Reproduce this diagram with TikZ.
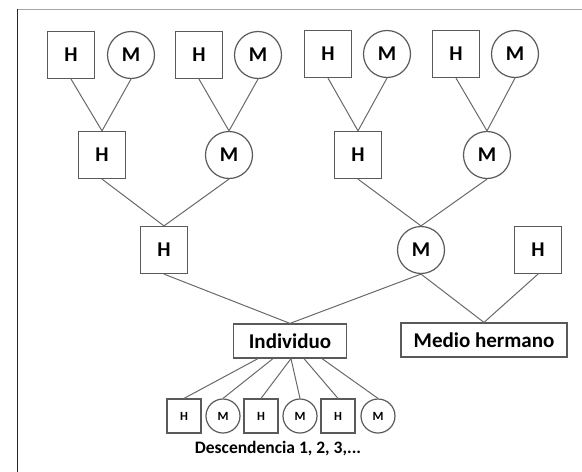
\documentclass[tikz,border=0pt]{standalone}
\usepackage{fontspec}
\setmainfont{Carlito}
\definecolor{ln}{RGB}{105,105,105}
\definecolor{bd}{RGB}{90,90,90}
\begin{document}
\begin{tikzpicture}[x=1pt,y=-1pt,
  sqb/.style={draw=bd,line width=1.2pt,minimum size=47pt,inner sep=0pt,font=\fontsize{21}{21}\selectfont\bfseries},
  cib/.style={circle,draw=bd,line width=1.2pt,minimum size=47pt,inner sep=0pt,font=\fontsize{21}{21}\selectfont\bfseries},
  sqs/.style={draw=bd,line width=1.2pt,minimum size=34pt,inner sep=0pt,font=\fontsize{12.5}{12.5}\selectfont\bfseries},
  cis/.style={circle,draw=bd,line width=1.2pt,minimum size=34pt,inner sep=0pt,font=\fontsize{12.5}{12.5}\selectfont\bfseries},
  rb/.style={draw=bd,line width=1.2pt,minimum height=34pt,inner sep=0pt,font=\fontsize{21}{21}\selectfont\bfseries},
  cn/.style={draw=ln,line width=1pt}]
\useasboundingbox (0,0) rectangle (582,472);
\draw[line width=0.8pt,draw=gray!70] (17,9) -- (582,9);
\draw[line width=1.8pt,draw=black!85] (17.5,8.5) -- (17.5,472);
% top row
\node[sqb] (a1) at (71,55) {H};
\node[cib] (a2) at (131,55) {M};
\node[sqb] (a3) at (199,55) {H};
\node[cib] (a4) at (258,55) {M};
\node[sqb] (a5) at (328,54) {H};
\node[cib] (a6) at (387,54) {M};
\node[sqb] (a7) at (456,54) {H};
\node[cib] (a8) at (515,54) {M};
% second row
\node[sqb] (b1) at (102,155) {H};
\node[cib] (b2) at (229,155) {M};
\node[sqb] (b3) at (358,155) {H};
\node[cib] (b4) at (487,155) {M};
% third row
\node[sqb] (c1) at (164,250) {H};
\node[cib] (c2) at (421,250) {M};
\node[sqb] (c3) at (538,250) {H};
% individuals
\node[rb,minimum width=113pt] (ind) at (290,341) {Individuo};
\node[rb,minimum width=166pt] (mh) at (484,340) {Medio hermano};
% descendants
\node[sqs] (d1) at (184,416) {H};
\node[cis] (d2) at (223,416) {M};
\node[sqs] (d3) at (261,416) {H};
\node[cis] (d4) at (300,416) {M};
\node[sqs] (d5) at (338,416) {H};
\node[cis] (d6) at (378,416) {M};
\node[font=\fontsize{17.5}{17.5}\selectfont\bfseries] (txt) at (278,449) {Descendencia 1, 2, 3,...};
% connectors
\draw[cn] (a1.south) -- (b1.north) -- (a2.south);
\draw[cn] (a3.south) -- (b2.north) -- (a4.south);
\draw[cn] (a5.south) -- (b3.north) -- (a6.south);
\draw[cn] (a7.south) -- (b4.north) -- (a8.south);
\draw[cn] (b1.south) -- (c1.north) -- (b2.south);
\draw[cn] (b3.south) -- (c2.north) -- (b4.south);
\draw[cn] (c1.south) -- (ind.north) -- (c2.south);
\draw[cn] (c2.south) -- (mh.north) -- (c3.south);
\draw[cn] ([xshift=-32pt]ind.south) -- (d1.north);
\draw[cn] ([xshift=-17pt]ind.south) -- (d2.north);
\draw[cn] ([xshift=1pt]ind.south) -- (d3.north);
\draw[cn] ([xshift=1pt]ind.south) -- (d4.north);
\draw[cn] ([xshift=14pt]ind.south) -- (d5.north);
\draw[cn] ([xshift=32pt]ind.south) -- (d6.north);
\end{tikzpicture}
\end{document}
